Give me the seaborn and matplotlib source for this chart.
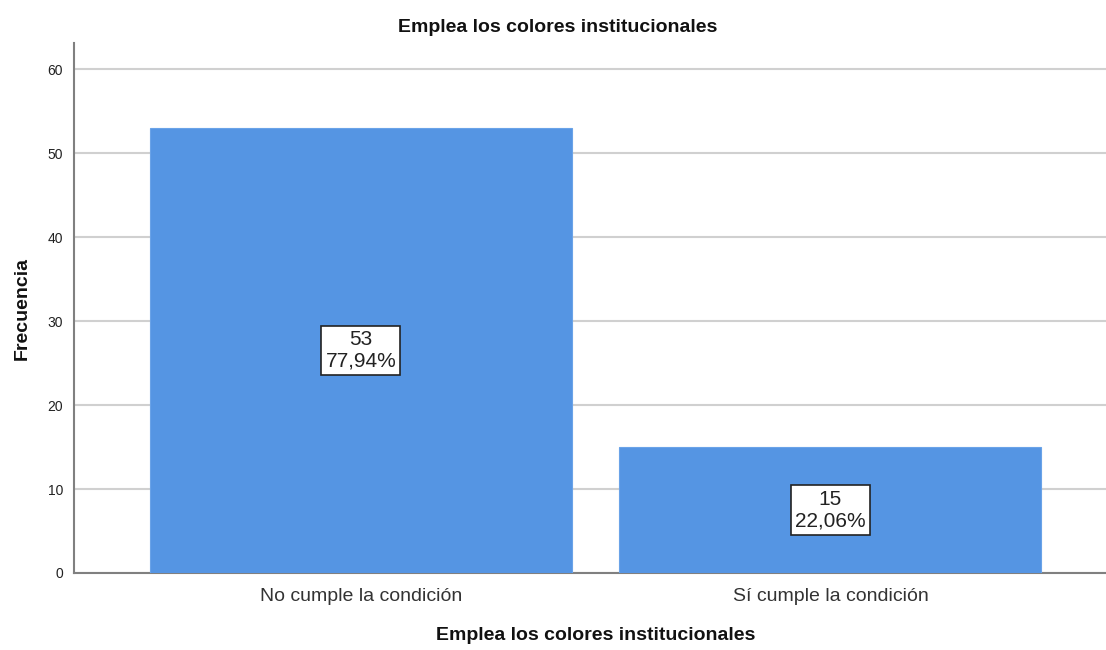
import matplotlib
matplotlib.use("Agg")
import matplotlib.pyplot as plt
import seaborn as sns
import pandas as pd

categories = ["No cumple la condición", "Sí cumple la condición"]
counts = [53, 15]
percents = ["77,94%", "22,06%"]

sns.set_theme(style="white")
plt.rcParams['font.family'] = ['Liberation Sans', 'DejaVu Sans']

fig = plt.figure(figsize=(11.06, 6.5), dpi=100)
ax = fig.add_axes([74/1106, 77/650, 1 - 74/1106, (573-43)/650])

df = pd.DataFrame({"cat": categories, "n": counts})
sns.barplot(data=df, x="cat", y="n", ax=ax, color="#5595E3", saturation=1,
            width=0.899, edgecolor="#6aa3e8", linewidth=0.8, zorder=3)

ax.set_xlim(-0.611, 1.587)
ax.set_ylim(0, 63.1)
ax.set_yticks([0, 10, 20, 30, 40, 50, 60])
ax.yaxis.grid(True, color="#d0d0d0", linewidth=1.5, zorder=0)
ax.set_axisbelow(True)
for s in ["top", "right"]:
    ax.spines[s].set_visible(False)
for s in ["left", "bottom"]:
    ax.spines[s].set_color("#808080")
    ax.spines[s].set_linewidth(1.5)

ax.tick_params(axis="y", labelsize=10, colors="#222222", length=0, pad=8)
ax.tick_params(axis="x", labelsize=14, colors="#333333", length=0, pad=11)

for i, (c, p) in enumerate(zip(counts, percents)):
    ax.text(i, c / 2, f"{c}\n{p}", ha="center", va="center", fontsize=15,
            color="#222222", linespacing=1.2, zorder=5,
            bbox=dict(boxstyle="square,pad=0.2", facecolor="white",
                      edgecolor="#222222", linewidth=1.2))

fig.text(558/1106, 1 - 27/650, "Emplea los colores institucionales", fontsize=14,
         fontweight="bold", color="#111111", ha="center", va="center")
ax.set_xlabel("Emplea los colores institucionales", fontsize=14, fontweight="bold",
              color="#111111", labelpad=18)
ax.xaxis.set_label_coords((596-74)/(1106-74), -(636-573)/530)
ax.xaxis.label.set_va("center")
ax.set_ylabel("Frecuencia", fontsize=14, fontweight="bold", color="#111111", labelpad=12)

fig.savefig("out.png", dpi=100)
